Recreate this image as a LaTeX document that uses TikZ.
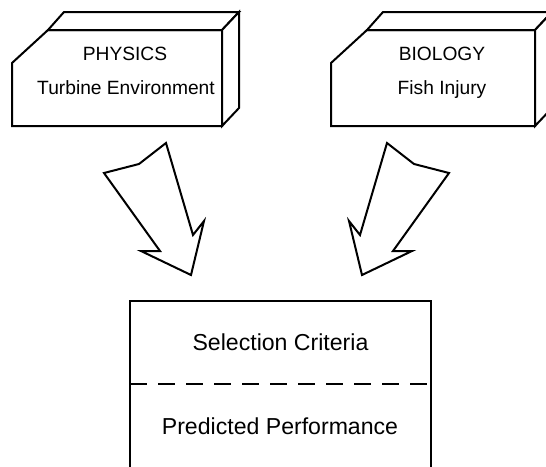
\documentclass[tikz,border=0pt]{standalone}
\usepackage{fontspec}
\setmainfont{Liberation Sans}
\begin{document}
\begin{tikzpicture}[x=1pt,y=-1pt,
  outline/.style={draw=black, line width=2pt, line join=miter, fill=white},
  toptext/.style={font=\fontsize{19.2}{23}\selectfont, inner sep=0pt, anchor=base},
  boxtext/.style={font=\fontsize{23.1}{28}\selectfont, inner sep=0pt, anchor=base}]
\useasboundingbox (0,0) rectangle (546,466);
\clip (0,0) rectangle (546,466);

% Physics block: front face, top face and side face
\draw[outline] (12,63) -- (48,30) -- (222,30) -- (222,126) -- (12,126) -- cycle;
\draw[outline] (48,30) -- (64,12) -- (239,12) -- (222,30) -- cycle;
\draw[outline] (222,30) -- (239,12) -- (239,108) -- (222,126) -- cycle;
\node[toptext] (phys) at (125,60) {PHYSICS};
\node[toptext] (turb) at (126,94.5) {Turbine Environment};

% Biology block (its back edge runs past the right border)
\draw[outline] (331,63) -- (367,30) -- (535,30) -- (535,126) -- (331,126) -- cycle;
\draw[outline] (367,30) -- (383,12) -- (552,12) -- (535,30) -- cycle;
\draw[outline] (535,30) -- (552,12) -- (552,108) -- (535,126) -- cycle;
\node[toptext] (bio) at (442,60) {BIOLOGY};
\node[toptext] (fish) at (442,94.5) {Fish Injury};

% Block arrows pointing into the result box
\draw[outline] (104,173) -- (139,164) -- (166,143) -- (193,235) -- (204,221)
  -- (191,275) -- (141,251) -- (160,251) -- cycle;
\draw[outline] (449,173) -- (414,164) -- (387,143) -- (360,235) -- (349,221)
  -- (362,275) -- (412,251) -- (393,251) -- cycle;

% Result box, open at the bottom
\coordinate (bl) at (130,470);
\coordinate (tl) at (130,301);
\coordinate (tr) at (431,301);
\coordinate (br) at (431,470);
\draw[outline, fill=none] (bl) -- (tl) -- (tr) -- (br);
\coordinate (dl) at (130,384);
\coordinate (dr) at (431,384);
\draw[line width=2pt, dash pattern=on 17pt off 11pt] (dl) -- (dr);
\node[boxtext] (sel) at (280.5,350) {Selection Criteria};
\node[boxtext] (pred) at (280,434) {Predicted Performance};
\end{tikzpicture}
\end{document}
